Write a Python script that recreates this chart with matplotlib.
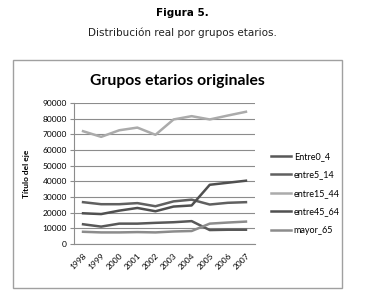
import matplotlib
matplotlib.use("Agg")
import matplotlib.pyplot as plt
from matplotlib.patches import Rectangle

years = ['1998', '1999', '2000', '2001', '2002', '2003', '2004', '2005', '2006', '2007']
entre0_4 = [12600, 11100, 13000, 13000, 13500, 13900, 14600, 8900, 9100, 9100]
entre5_14 = [26700, 25400, 25400, 26100, 24100, 27200, 28300, 25200, 26300, 26700]
entre15_44 = [72000, 68400, 72600, 74300, 69700, 79500, 81600, 79500, 82000, 84400]
entre45_64 = [19600, 19100, 21300, 23000, 20900, 23900, 24600, 37800, 39100, 40400]
mayor_65 = [7800, 7400, 7400, 7600, 7400, 8000, 8300, 13000, 13700, 14300]

series = [
    ('Entre0_4', entre0_4, '#585858'),
    ('entre5_14', entre5_14, '#606060'),
    ('entre15_44', entre15_44, '#ababab'),
    ('entre45_64', entre45_64, '#505050'),
    ('mayor_65', mayor_65, '#8c8c8c'),
]
yticks = list(range(0, 90001, 10000))

W, H = 365, 305
fig = plt.figure(figsize=(W / 100, H / 100), dpi=100)

# figure caption
fig.text(0.5, 1 - 13 / H, 'Figura 5.', ha='center', va='center',
         fontsize=7.5, fontweight='bold', family='DejaVu Sans')
fig.text(0.5, 1 - 33 / H, 'Distribución real por grupos etarios.', ha='center',
         va='center', fontsize=7.5, family='DejaVu Sans', color='#222222')

# chart frame
fig.patches.append(Rectangle((13 / W, 1 - 288 / H), (342 - 13) / W, (288 - 60) / H,
                             transform=fig.transFigure, fill=False,
                             edgecolor='#a0a0a0', lw=1.0))

ax = fig.add_axes([74 / W, 1 - 244 / H, (255 - 74) / W, (244 - 103) / H])
x = list(range(len(years)))
for name, vals, col in series:
    ax.plot(x, vals, color=col, lw=1.8, label=name)

ax.set_xlim(-0.5, len(years) - 0.5)
ax.set_ylim(0, 90000)
ax.set_yticks(yticks)
ax.set_yticklabels([str(v) for v in yticks], fontsize=6, family='Lato')
ax.set_xticks(x)
ax.set_xticklabels(years, rotation=45, ha='right', rotation_mode='anchor',
                   fontsize=6, family='Lato')
ax.grid(axis='y', color='#8c8c8c', lw=0.8)
ax.set_axisbelow(True)
for s in ['top', 'right']:
    ax.spines[s].set_visible(False)
ax.spines['left'].set_color('#8c8c8c')
ax.spines['bottom'].set_color('#8c8c8c')
ax.tick_params(axis='y', length=3, color='#8c8c8c', pad=2)
ax.tick_params(axis='x', length=0, pad=6)
ax.set_ylabel('Título del eje', fontsize=6, fontweight='bold', family='Lato',
              labelpad=9)

fig.text(177 / W, 1 - 81 / H, 'Grupos etarios originales', ha='center', va='center',
         fontsize=11.3, fontweight='bold', family='Lato')

leg = ax.legend(loc='upper left', bbox_to_anchor=(263 / W, 1 - 144 / H),
                bbox_transform=fig.transFigure, frameon=False,
                prop={'family': 'Lato', 'size': 6.5}, handlelength=2.2,
                handletextpad=0.3, labelspacing=1.05)

fig.savefig('out.png', dpi=100)
